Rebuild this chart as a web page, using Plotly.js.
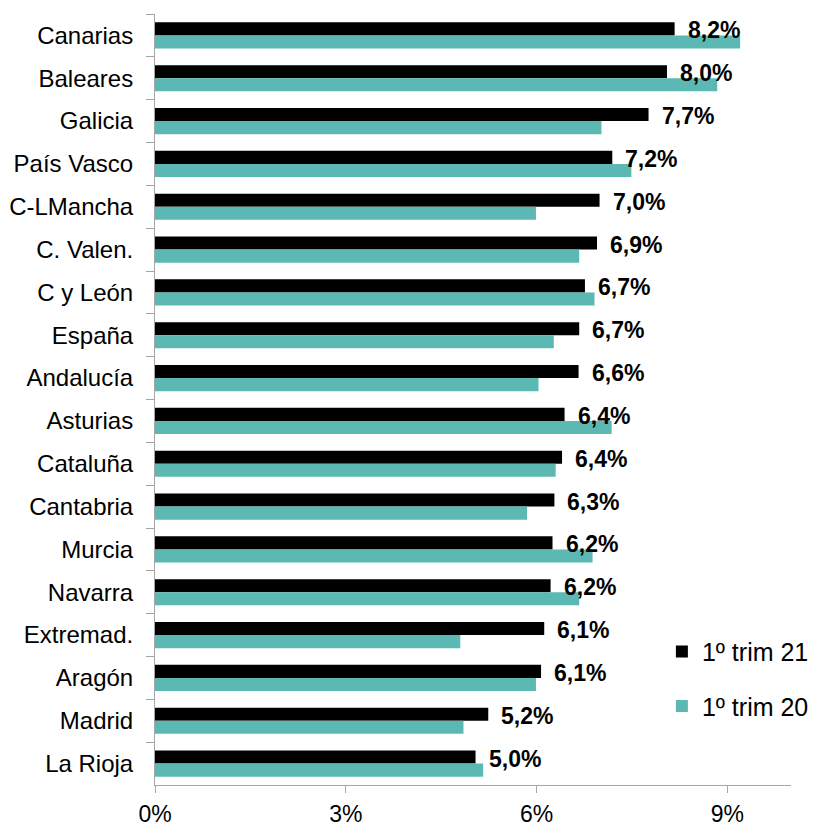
<!DOCTYPE html>
<html>
<head>
<meta charset="utf-8">
<script src="https://cdn.plot.ly/plotly-3.0.1.min.js"></script>
<style>html,body{margin:0;padding:0;background:#fff;overflow:hidden;}#chart{width:816px;height:824px;}</style>
</head>
<body>
<div id="chart"></div>
<script>
const categories = ["Canarias","Baleares","Galicia","País Vasco","C-LMancha","C. Valen.","C y León","España","Andalucía","Asturias","Cataluña","Cantabria","Murcia","Navarra","Extremad.","Aragón","Madrid","La Rioja"];
const trim21 = [8.17,8.05,7.76,7.19,6.99,6.95,6.76,6.67,6.66,6.44,6.40,6.28,6.25,6.22,6.12,6.07,5.24,5.04];
const trim20 = [9.20,8.84,7.02,7.49,5.99,6.67,6.91,6.27,6.03,7.18,6.30,5.85,6.88,6.67,4.80,5.99,4.85,5.16];
const trim21Labels = ["8,2%","8,0%","7,7%","7,2%","7,0%","6,9%","6,7%","6,7%","6,6%","6,4%","6,4%","6,3%","6,2%","6,2%","6,1%","6,1%","5,2%","5,0%"];
const seriesNames = ["1º trim 21","1º trim 20"];
const xTicks = [0,3,6,9];

const FONT = "Liberation Sans, Arial, sans-serif";

const traces = [
  {type:"bar", orientation:"h", name:seriesNames[0], y:categories, x:trim21,
   marker:{color:"#000000"}, legendgroup:"a", hoverinfo:"skip"},
  {type:"bar", orientation:"h", name:seriesNames[1], y:categories, x:trim20,
   marker:{color:"#5cb8b2"}, legendgroup:"b", hoverinfo:"skip"}
];

const annotations = categories.map((c,i)=>({
  x: trim21[i], y: c, xref:"x", yref:"y", text: trim21Labels[i],
  showarrow:false, xanchor:"left", yanchor:"middle", xshift:11, yshift:5,
  font:{family:FONT, size:23, color:"#000", weight:"bold"}
}));

const layout = {
  width:816, height:824,
  margin:{l:155, r:25, t:14, b:39, pad:0, autoexpand:false},
  paper_bgcolor:"#fff", plot_bgcolor:"#fff",
  font:{family:FONT, color:"#000"},
  barmode:"group", bargap:0.39, bargroupgap:0,
  showlegend:true,
  legend:{x:0.797, xanchor:"left", y:0.2025, yanchor:"top",
    font:{family:FONT, size:25, color:"#000"},
    traceorder:"grouped", tracegroupgap:19, bgcolor:"rgba(0,0,0,0)"},
  xaxis:{range:[0,10], tickvals:xTicks, ticktext:xTicks.map(v=>v+"%"),
    showline:true, linecolor:"#a6a6a6", linewidth:1,
    ticks:"outside", ticklen:7, tickcolor:"#a6a6a6", tickwidth:1,
    tickfont:{family:FONT, size:23, color:"#000"},
    showgrid:false, zeroline:false, fixedrange:true, ticklabelstandoff:1, automargin:false},
  yaxis:{type:"category", autorange:"reversed",
    showline:true, linecolor:"#a6a6a6", linewidth:1,
    ticks:"outside", tickson:"boundaries", ticklen:8, tickcolor:"#a6a6a6", tickwidth:1,
    tickfont:{family:FONT, size:24, color:"#000"},
    showgrid:false, zeroline:false, fixedrange:true, ticklabelstandoff:16, automargin:false},
  annotations: annotations
};

Plotly.newPlot("chart", traces, layout, {displayModeBar:false, staticPlot:true});
</script>
</body>
</html>
